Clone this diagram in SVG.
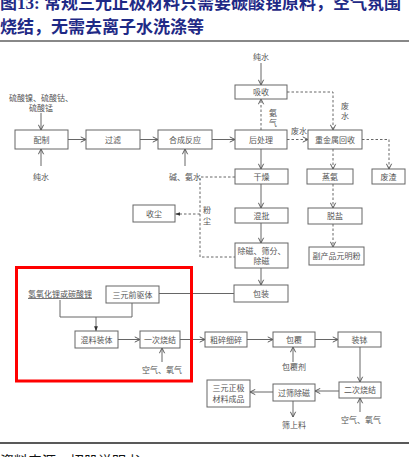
<svg xmlns="http://www.w3.org/2000/svg" width="409" height="457" viewBox="0 0 409 457">
<style>
.t{font-family:"Liberation Serif","Noto Sans CJK SC",serif;font-size:8px;fill:#555;text-anchor:middle}
.b{fill:#fff;stroke:#666;stroke-width:1}
.s{fill:none;stroke:#666;stroke-width:1}
.d{fill:none;stroke:#666;stroke-width:1;stroke-dasharray:2.5,2}
.title{font-family:"Liberation Serif","Noto Sans CJK SC",serif;font-size:17px;font-weight:bold;fill:#1f2a86}
</style>
<defs>
<marker id="a" viewBox="0 0 8 8" refX="7.5" refY="4" markerWidth="7" markerHeight="7" orient="auto" markerUnits="userSpaceOnUse"><path d="M1.5,1 L7.5,4 L1.5,7" fill="none" stroke="#555" stroke-width="1.1"/></marker>
<marker id="f" viewBox="0 0 8 8" refX="7.5" refY="4" markerWidth="5" markerHeight="5" orient="auto" markerUnits="userSpaceOnUse"><path d="M0,1 L8,4 L0,7 Z" fill="#333"/></marker>
</defs>
<rect width="409" height="457" fill="#fff"/>
<g id="title">
<text class="title" x="0" y="8.5">图13:  常规三元正极材料只需要碳酸锂原料，空气氛围</text>
<text class="title" x="0" y="33">烧结，无需去离子水洗涤等</text>
<line x1="0" y1="41" x2="409" y2="41" stroke="#888" stroke-width="2"/>
</g>
<g id="connectors">
<line class="s" x1="41" y1="113" x2="41" y2="130" marker-end="url(#a)"/>
<line class="s" x1="41" y1="166" x2="41" y2="149" marker-end="url(#a)"/>
<line class="s" x1="68" y1="139.5" x2="86" y2="139.5" marker-end="url(#a)"/>
<line class="s" x1="140" y1="139.5" x2="158" y2="139.5" marker-end="url(#a)"/>
<line class="s" x1="185" y1="166" x2="185" y2="149" marker-end="url(#a)"/>
<line class="s" x1="212" y1="139.5" x2="235" y2="139.5" marker-end="url(#a)"/>
<line class="s" x1="261" y1="63" x2="261" y2="85" marker-end="url(#a)"/>
<line class="d" x1="261" y1="130" x2="261" y2="99" marker-end="url(#a)"/>
<path class="d" d="M287,92 H333 V130" marker-end="url(#a)"/>
<line class="d" x1="287" y1="139.5" x2="308" y2="139.5" marker-end="url(#a)"/>
<path class="d" d="M362,139.5 H389 V169" marker-end="url(#a)"/>
<line class="d" x1="333" y1="149" x2="333" y2="169" marker-end="url(#a)"/>
<line class="s" x1="261" y1="149" x2="261" y2="169" marker-end="url(#a)"/>
<line class="s" x1="261" y1="184" x2="261" y2="208" marker-end="url(#a)"/>
<line class="s" x1="261" y1="223" x2="261" y2="243" marker-end="url(#a)"/>
<line class="s" x1="261" y1="268" x2="261" y2="285" marker-end="url(#a)"/>
<line class="d" x1="333" y1="184" x2="333" y2="208" marker-end="url(#a)"/>
<line class="d" x1="333" y1="224" x2="333" y2="247" marker-end="url(#a)"/>
<path class="d" d="M235,177 H200 V257 H235"/>
<line class="d" x1="200" y1="214" x2="175.5" y2="214" marker-end="url(#f)"/>
<line class="s" x1="234" y1="293.5" x2="159" y2="293.5"/>
<path class="s" d="M60,300 V317 H132 V303"/>
<line class="s" x1="96" y1="317" x2="96" y2="331" marker-end="url(#f)"/>
<line class="s" x1="118" y1="339.5" x2="140" y2="339.5" marker-end="url(#a)"/>
<line class="s" x1="162" y1="362" x2="162" y2="348" marker-end="url(#a)"/>
<line class="s" x1="180" y1="339.5" x2="205" y2="339.5" marker-end="url(#a)"/>
<line class="s" x1="247" y1="339.5" x2="273" y2="339.5" marker-end="url(#a)"/>
<line class="s" x1="293" y1="362" x2="293" y2="347" marker-end="url(#a)"/>
<line class="s" x1="315" y1="339.5" x2="338" y2="339.5" marker-end="url(#a)"/>
<line class="s" x1="360" y1="347" x2="360" y2="382" marker-end="url(#a)"/>
<line class="s" x1="360" y1="412" x2="360" y2="398" marker-end="url(#a)"/>
<line class="s" x1="339" y1="391" x2="315" y2="391" marker-end="url(#a)"/>
<line class="s" x1="273" y1="392" x2="250" y2="392" marker-end="url(#a)"/>
<line class="s" x1="293" y1="401" x2="293" y2="417" marker-end="url(#a)"/>
</g>
<g id="labels">
<text class="t" x="41" y="101">硫酸镍、硫酸钴、</text>
<text class="t" x="41" y="111">硫酸锰</text>
<text class="t" x="41" y="180">纯水</text>
<text class="t" x="185" y="180">碱、氨水</text>
<text class="t" x="261" y="60">纯水</text>
<text class="t" x="273" y="116">氨</text>
<text class="t" x="273" y="126">气</text>
<text class="t" x="345" y="109">废</text>
<text class="t" x="345" y="119">水</text>
<text class="t" x="299" y="134">废水</text>
<text class="t" x="207" y="213">粉</text>
<text class="t" x="207" y="224">尘</text>
<text class="t" x="60" y="297" text-decoration="underline">氢氧化锂或碳酸锂</text>
<text class="t" x="162" y="373">空气、氧气</text>
<text class="t" x="294" y="370">包覆剂</text>
<text class="t" x="361" y="423">空气、氧气</text>
<text class="t" x="294" y="428">筛上料</text>
</g>
<g id="n-peizhi"><rect class="b" x="15" y="130" width="53" height="19"/><text class="t" x="41.5" y="142.5">配制</text></g>
<g id="n-guolv"><rect class="b" x="86" y="130" width="54" height="19"/><text class="t" x="113" y="142.5">过滤</text></g>
<g id="n-hecheng"><rect class="b" x="158" y="130" width="54" height="19"/><text class="t" x="185" y="142.5">合成反应</text></g>
<g id="n-xishou"><rect class="b" x="235" y="85" width="52" height="14"/><text class="t" x="261" y="95">吸收</text></g>
<g id="n-houchuli"><rect class="b" x="235" y="130" width="52" height="19"/><text class="t" x="261" y="142.5">后处理</text></g>
<g id="n-zhongjinshu"><rect class="b" x="308" y="130" width="54" height="19"/><text class="t" x="335" y="142.5">重金属回收</text></g>
<g id="n-ganzao"><rect class="b" x="235" y="169" width="53" height="15"/><text class="t" x="261.5" y="179.5">干燥</text></g>
<g id="n-zhengan"><rect class="b" x="307" y="169" width="46" height="15"/><text class="t" x="330" y="179.5">蒸氨</text></g>
<g id="n-feizha"><rect class="b" x="372" y="169" width="33" height="15"/><text class="t" x="388.5" y="179.5">废渣</text></g>
<g id="n-shouchen"><rect class="b" x="133" y="205" width="42" height="17"/><text class="t" x="154" y="216.5">收尘</text></g>
<g id="n-hunpi"><rect class="b" x="235" y="208" width="53" height="15"/><text class="t" x="261.5" y="218.5">混批</text></g>
<g id="n-tuoyan"><rect class="b" x="308" y="208" width="54" height="16"/><text class="t" x="335" y="219">脱盐</text></g>
<g id="n-chuci"><rect class="b" x="235" y="243" width="53" height="25"/><text class="t" x="261.5" y="253.5">除磁、筛分、</text><text class="t" x="261.5" y="264">除磁</text></g>
<g id="n-fuchanpin"><rect class="b" x="309" y="247" width="55" height="18"/><text class="t" x="336.5" y="259">副产品元明粉</text></g>
<g id="n-baozhuang"><rect class="b" x="234" y="285" width="54" height="17"/><text class="t" x="261" y="296.5">包装</text></g>
<g id="n-qianquti"><rect class="b" x="106" y="286" width="53" height="17"/><text class="t" x="132.5" y="297.5">三元前驱体</text></g>
<g id="n-hunliao"><rect class="b" x="75" y="331" width="43" height="17"/><text class="t" x="96.5" y="342.5">混料装体</text></g>
<g id="n-yici"><rect class="b" x="140" y="331" width="40" height="17"/><text class="t" x="160" y="342.5">一次烧结</text></g>
<g id="n-cusui"><rect class="b" x="205" y="332" width="42" height="15"/><text class="t" x="226" y="342.5">粗碎细碎</text></g>
<g id="n-baofu"><rect class="b" x="273" y="332" width="42" height="15"/><text class="t" x="294" y="342.5">包覆</text></g>
<g id="n-zhuangbo"><rect class="b" x="338" y="332" width="43" height="15"/><text class="t" x="359.5" y="342.5">装钵</text></g>
<g id="n-erci"><rect class="b" x="339" y="382" width="42" height="16"/><text class="t" x="360" y="393">二次烧结</text></g>
<g id="n-guoshai"><rect class="b" x="273" y="384" width="42" height="17"/><text class="t" x="294" y="395.5">过筛除磁</text></g>
<g id="n-chengpin"><rect class="b" x="207" y="380" width="43" height="27"/><text class="t" x="228.5" y="391">三元正极</text><text class="t" x="228.5" y="402">材料成品</text></g>
<g id="highlight"><rect x="16.5" y="267.5" width="175" height="113.5" fill="none" stroke="#f00" stroke-width="3"/></g>
<g id="footer">
<line x1="0" y1="443" x2="409" y2="443" stroke="#222" stroke-width="1.3"/>
<text x="0" y="466" font-family="Liberation Serif,'Noto Sans CJK SC',serif" font-size="14" fill="#111">资料来源：招股说明书</text>
</g>
</svg>
